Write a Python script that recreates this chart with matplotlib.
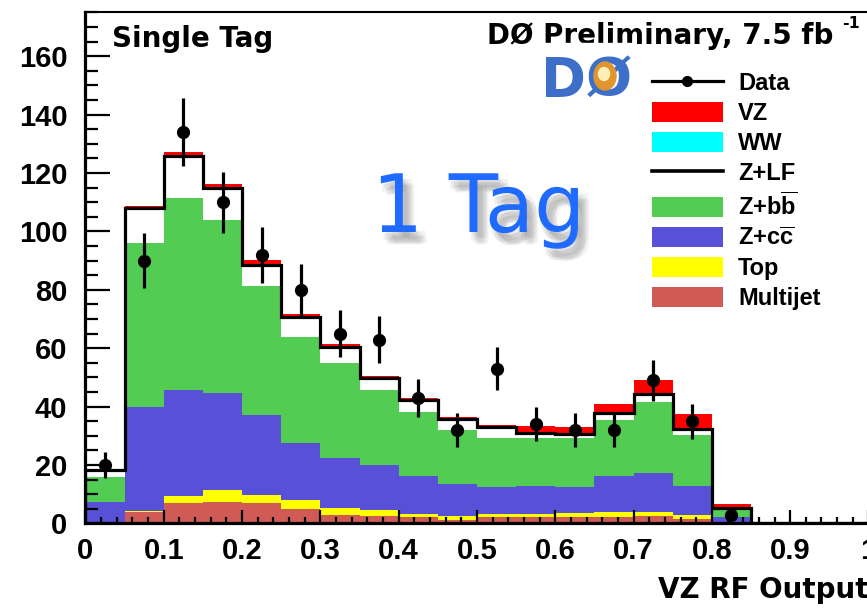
import numpy as np
import matplotlib
matplotlib.use("Agg")
import matplotlib.pyplot as plt
import matplotlib.patheffects as pe
from matplotlib.patches import Patch, Rectangle, Ellipse
from matplotlib.lines import Line2D

plt.rcParams['font.family'] = ['Liberation Sans', 'DejaVu Sans']
plt.rcParams['mathtext.fontset'] = 'custom'
plt.rcParams['mathtext.rm'] = 'Liberation Sans:bold'
plt.rcParams['mathtext.bf'] = 'Liberation Sans:bold'

# 20 bins of width 0.05 on the RF output
bin_edges = [0.0, 0.05, 0.1, 0.15, 0.2, 0.25, 0.3, 0.35, 0.4, 0.45, 0.5,
             0.55, 0.6, 0.65, 0.7, 0.75, 0.8, 0.85, 0.9, 0.95, 1.0]

# background / signal contributions per bin (events), bottom of stack first
multijet = [0.4, 4.0, 7.1, 7.5, 6.9, 5.0, 2.9, 2.7, 2.1, 1.2, 2.3, 2.3, 2.3, 2.3, 2.5, 1.5, 0.3, 0, 0, 0]
top = [0.1, 0.2, 2.3, 4.0, 2.9, 3.0, 2.3, 2.0, 1.2, 1.3, 1.0, 1.0, 1.2, 1.7, 1.5, 1.3, 0.1, 0, 0, 0]
z_cc = [7.0, 35.8, 36.3, 33.1, 27.4, 19.5, 17.1, 15.3, 13.0, 11.0, 9.1, 9.5, 8.9, 12.3, 13.2, 10.1, 1.8, 0, 0, 0]
z_bb = [8.3, 56.0, 65.7, 59.3, 44.1, 36.5, 32.6, 25.7, 21.9, 18.5, 16.8, 16.4, 16.8, 19.1, 24.5, 17.4, 2.6, 0, 0, 0]
z_lf = [2.5, 12.0, 14.4, 10.9, 7.2, 6.8, 5.6, 4.0, 4.0, 3.7, 3.7, 1.9, 1.3, 2.5, 2.5, 1.9, 0.5, 0, 0, 0]
ww = [0.0, 0.1, 0.1, 0.1, 0.1, 0.1, 0.1, 0.1, 0.1, 0.1, 0.1, 0.1, 0.1, 0.1, 0.1, 0.1, 0.0, 0, 0, 0]
vz = [0.2, 0.5, 1.4, 1.5, 1.7, 1.0, 0.9, 0.8, 0.7, 0.8, 0.9, 2.1, 2.6, 3.0, 4.9, 5.2, 1.4, 0, 0, 0]

# observed data (first 17 bins)
data = [20, 90, 134, 110, 92, 80, 65, 63, 43, 32, 53, 34, 32, 32, 49, 35, 3]
data_err = [4.4, 9.5, 11.6, 10.5, 9.6, 8.9, 8.1, 7.9, 6.6, 5.7, 7.3, 5.8, 5.7, 5.7, 7.0, 5.9, 1.7]

labels = ['Multijet', 'Top', 'Z+c$\\overline{\\rm c}$', 'Z+b$\\overline{\\rm b}$', 'Z+LF', 'WW', 'VZ']
colors = ['#d05a55', '#ffff00', '#5850d6', '#52cc52', 'white', '#00ffff', '#ff0000']

edges = np.array(bin_edges)
centers = 0.5 * (edges[:-1] + edges[1:])
stack = np.array([multijet, top, z_cc, z_bb, z_lf, ww, vz])
cum = np.cumsum(stack, axis=0)

fig = plt.figure(figsize=(8.67, 6.09), dpi=100)
ax = fig.add_axes([0.0986, 0.1404, 0.9031, 0.8391])

bottom = np.zeros(len(centers))
for vals, c in zip(cum, colors):
    ax.stairs(vals, edges, baseline=bottom, fill=True, color=c, lw=0, zorder=1)
    bottom = vals

# Z+LF outline
ax.stairs(cum[4], edges, color='black', lw=2.3, zorder=3)

n = len(data)
ax.errorbar(centers[:n], data, yerr=data_err, fmt='o', color='black',
            ms=8.5, elinewidth=2.3, capsize=0, zorder=4)

ax.set_xlim(0, 1)
ax.set_ylim(0, 175)
ax.set_xticks(np.arange(0, 1.01, 0.1))
ax.set_xticklabels(['0', '0.1', '0.2', '0.3', '0.4', '0.5', '0.6', '0.7', '0.8', '0.9', '1'])
ax.set_xticks(np.arange(0, 1.001, 0.02), minor=True)
ax.set_yticks(np.arange(0, 161, 20))
ax.set_yticks(np.arange(0, 176, 5), minor=True)

ax.tick_params(axis='both', which='both', direction='in', width=1.6, color='black',
               labelsize=20)
ax.tick_params(axis='y', which='major', length=18, pad=13)
ax.tick_params(axis='y', which='minor', length=9.5)
ax.tick_params(axis='x', which='major', length=9.5, pad=10)
ax.tick_params(axis='x', which='minor', length=4)
for lab in ax.get_xticklabels() + ax.get_yticklabels():
    lab.set_fontweight('bold')
    lab.set_fontsize(21)

ax.spines['left'].set_linewidth(2.3)
ax.spines['bottom'].set_linewidth(2.3)
ax.spines['top'].set_linewidth(1.5)
ax.spines['right'].set_linewidth(1.5)

ax.set_xlabel('VZ RF Output', loc='right', fontsize=20, fontweight='bold',
              family='DejaVu Sans', labelpad=8)

W, H = 867.0, 609.0
fig.text(112 / W, 1 - 47 / H, 'Single Tag', fontsize=20, fontweight='bold',
         family='DejaVu Sans', va='baseline')
fig.text(487 / W, 1 - 43.5 / H, 'DØ Preliminary, 7.5 fb', fontsize=20,
         fontweight='bold', family='DejaVu Sans', va='baseline')
fig.text(842 / W, 1 - 28.5 / H, '-1', fontsize=11.5, fontweight='bold',
         family='DejaVu Sans', va='baseline')

# DØ logo stand-in
fig.add_artist(Rectangle((530 / W, 1 - 100 / H), 102 / W, 57 / H,
                         transform=fig.transFigure, color='white', zorder=5))
fig.text(541 / W, 1 - 96 / H, 'DØ', fontsize=39, fontweight='bold',
         family='DejaVu Sans', color='#3d6fc9', va='baseline', zorder=6)
fig.add_artist(Ellipse((605 / W, 1 - 76 / H), 22 / W, 28 / H, transform=fig.transFigure,
                       color='#e0952f', zorder=7))
fig.add_artist(Ellipse((604 / W, 1 - 74 / H), 11 / W, 13 / H, transform=fig.transFigure,
                       color='#fff0b8', zorder=8))

# hand-written annotation with a soft shadow
shadow_offsets = [(2, -3), (4, -5), (6, -7), (3, -8), (7, -4), (5, -9), (8, -8), (1, -6)]
txt = fig.text(372 / W, 1 - 232 / H, '1 Tag', fontsize=58, color='#1f6bff',
               family='DejaVu Sans', va='baseline')
txt.set_path_effects([pe.SimplePatchShadow(offset=o, shadow_rgbFace='0.3', alpha=0.07)
                      for o in shadow_offsets] + [pe.Normal()])

handles = [Line2D([], [], color='black', lw=2.3, marker='o', ms=7),
           Patch(facecolor=colors[6], edgecolor='none'),
           Patch(facecolor=colors[5], edgecolor='none'),
           Line2D([], [], color='black', lw=2.6),
           Patch(facecolor=colors[3], edgecolor='none'),
           Patch(facecolor=colors[2], edgecolor='none'),
           Patch(facecolor=colors[1], edgecolor='none'),
           Patch(facecolor=colors[0], edgecolor='none')]
leg_labels = ['Data', labels[6], labels[5], labels[4], labels[3], labels[2], labels[1], labels[0]]
leg = ax.legend(handles, leg_labels, loc='upper left', bbox_to_anchor=(652 / W, 1 - 72 / H),
                bbox_transform=fig.transFigure, frameon=False, borderpad=0, borderaxespad=0,
                handlelength=3.0, handleheight=0.9, labelspacing=0.3, handletextpad=0.65,
                numpoints=1, prop={'size': 17, 'weight': 'bold'})

fig.savefig('out.png', dpi=100)
